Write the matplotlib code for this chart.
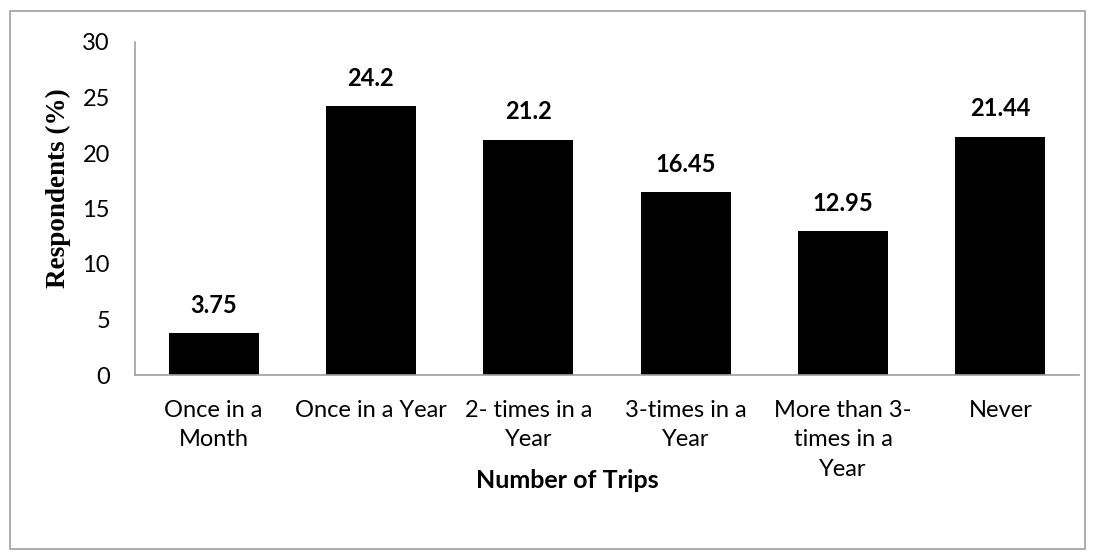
import matplotlib.pyplot as plt
from matplotlib.patches import Rectangle

# categories and values
categories = ['Once in a\nMonth', 'Once in a Year', '2- times in a\nYear', '3-times in a\nYear',
              'More than 3-\ntimes in a\nYear', 'Never']
values = [3.75, 24.2, 21.2, 16.45, 12.95, 21.44]
labels = ['3.75', '24.2', '21.2', '16.45', '12.95', '21.44']

plt.rcParams['font.family'] = ['Lato', 'DejaVu Sans']

fig = plt.figure(figsize=(10.96, 5.6), dpi=100)
ax = fig.add_axes([135/1096, 1-375/560, (1079-135)/1096, (375-42)/560])

x = range(len(categories))
ax.bar(x, values, width=0.57, color='black')
for i, v in enumerate(values):
    ax.text(i, v + 1.5, labels[i], ha='center', va='bottom', fontsize=17, fontweight='bold')

ax.set_xlim(-0.5, len(categories) - 0.5)
ax.set_ylim(0, 30)
ax.set_yticks([0, 5, 10, 15, 20, 25, 30])
ax.set_xticks(list(x))
ax.set_xticklabels(categories, fontsize=17, linespacing=1.5, va='top')
ax.tick_params(axis='y', length=0, labelsize=17, pad=18)
ax.tick_params(axis='x', length=0, pad=18)

for s in ['top', 'right']:
    ax.spines[s].set_visible(False)
for s in ['left', 'bottom']:
    ax.spines[s].set_color('#a0a0a0')
    ax.spines[s].set_linewidth(1.2)

ax.set_ylabel('Respondents (%)', fontsize=19.5, fontweight='bold', family='Liberation Serif', va='center')
ax.yaxis.set_label_coords((58-135)/944, (375-188)/333)
ax.set_xlabel('Number of Trips', fontsize=18, fontweight='bold', va='center')
ax.xaxis.set_label_coords((567-135)/944, (375-481)/333)

# outer chart border
fig.patches.append(Rectangle((10/1096, 1-549/560), 1075/1096, 538/560, transform=fig.transFigure,
                             fill=False, edgecolor='#a0a0a0', linewidth=1.2))

fig.savefig('out.png', dpi=100)
